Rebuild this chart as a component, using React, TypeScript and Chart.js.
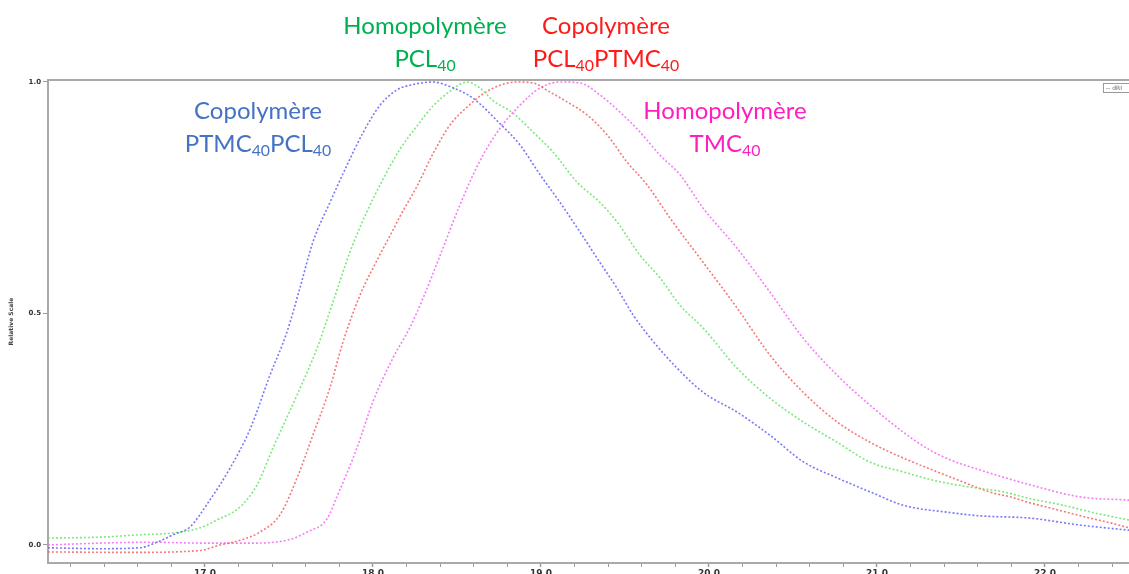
import React, { useEffect, useRef } from "react";
import { Chart, registerables } from "chart.js";

Chart.register(...registerables);

// Elution volume (x) and relative scale (y)
const blueX = [16.065, 16.375, 16.613, 16.714, 16.81, 16.911, 17.012, 17.149, 17.268, 17.387, 17.488, 17.565, 17.643, 17.744, 17.845, 17.94, 18.042, 18.143, 18.22, 18.357, 18.458, 18.595, 18.756, 18.875, 18.994, 19.113, 19.232, 19.351, 19.452, 19.548, 19.667, 19.81, 19.964, 20.167, 20.363, 20.56, 20.762, 20.958, 21.155, 21.435, 21.613, 21.911, 22.208, 22.5];
const blueY = [-0.006, -0.008, -0.006, 0.006, 0.022, 0.039, 0.088, 0.166, 0.25, 0.367, 0.46, 0.555, 0.655, 0.74, 0.82, 0.89, 0.95, 0.983, 0.993, 1.0, 0.99, 0.965, 0.91, 0.864, 0.8, 0.74, 0.676, 0.61, 0.555, 0.497, 0.44, 0.382, 0.33, 0.287, 0.237, 0.18, 0.145, 0.115, 0.086, 0.07, 0.063, 0.058, 0.043, 0.032];

const greenX = [16.065, 16.375, 16.613, 16.81, 16.97, 17.071, 17.208, 17.31, 17.405, 17.548, 17.667, 17.762, 17.863, 17.964, 18.06, 18.161, 18.262, 18.357, 18.458, 18.56, 18.637, 18.714, 18.833, 18.952, 19.071, 19.214, 19.351, 19.452, 19.589, 19.708, 19.827, 19.964, 20.167, 20.363, 20.56, 20.762, 20.958, 21.155, 21.357, 21.554, 21.75, 21.911, 22.107, 22.31, 22.5];
const greenY = [0.015, 0.017, 0.022, 0.026, 0.037, 0.054, 0.082, 0.13, 0.21, 0.324, 0.425, 0.525, 0.633, 0.72, 0.79, 0.855, 0.905, 0.948, 0.98, 1.0, 0.987, 0.96, 0.933, 0.892, 0.849, 0.784, 0.74, 0.698, 0.626, 0.577, 0.518, 0.469, 0.382, 0.317, 0.266, 0.222, 0.179, 0.158, 0.138, 0.125, 0.115, 0.1, 0.086, 0.068, 0.054];

const redX = [16.065, 16.554, 16.97, 17.089, 17.208, 17.327, 17.446, 17.548, 17.643, 17.744, 17.821, 17.923, 18.024, 18.119, 18.161, 18.262, 18.357, 18.458, 18.56, 18.655, 18.756, 18.857, 18.952, 19.054, 19.155, 19.274, 19.393, 19.512, 19.631, 19.768, 19.964, 20.167, 20.363, 20.56, 20.762, 20.958, 21.155, 21.435, 21.554, 21.673, 21.792, 21.911, 22.03, 22.149, 22.268, 22.387, 22.5];
const redY = [-0.015, -0.016, -0.012, 0.0, 0.01, 0.028, 0.065, 0.145, 0.238, 0.34, 0.438, 0.54, 0.615, 0.68, 0.71, 0.775, 0.845, 0.907, 0.946, 0.974, 0.993, 1.0, 0.998, 0.978, 0.957, 0.929, 0.886, 0.827, 0.778, 0.706, 0.611, 0.512, 0.41, 0.33, 0.266, 0.222, 0.188, 0.147, 0.13, 0.114, 0.104, 0.091, 0.08, 0.069, 0.058, 0.048, 0.037];

const magentaX = [16.065, 16.375, 16.673, 17.0, 17.268, 17.506, 17.607, 17.726, 17.786, 17.905, 18.0, 18.119, 18.22, 18.3, 18.399, 18.518, 18.637, 18.756, 18.875, 18.994, 19.113, 19.232, 19.351, 19.47, 19.589, 19.708, 19.827, 19.964, 20.167, 20.363, 20.56, 20.762, 20.958, 21.155, 21.315, 21.435, 21.613, 21.911, 22.208, 22.5];
const magentaY = [0.0, 0.004, 0.006, 0.004, 0.004, 0.012, 0.028, 0.056, 0.105, 0.21, 0.31, 0.404, 0.47, 0.535, 0.625, 0.735, 0.83, 0.9, 0.95, 0.987, 1.0, 0.998, 0.972, 0.935, 0.892, 0.842, 0.8, 0.728, 0.641, 0.546, 0.447, 0.367, 0.302, 0.244, 0.205, 0.184, 0.162, 0.13, 0.104, 0.097];

const xTickLabels = ["17.0", "18.0", "19.0", "20.0", "21.0", "22.0"];
const yTickLabels = ["0.0", "0.5", "1.0"];

const toPoints = (xs: number[], ys: number[]) => xs.map((x, i) => ({ x, y: ys[i] }));

const framePlugin = {
  id: "frame",
  afterDraw(chart: any) {
    const { ctx, chartArea } = chart;
    ctx.save();
    ctx.strokeStyle = "#a9a9a9";
    ctx.lineWidth = 2;
    ctx.beginPath();
    ctx.moveTo(chartArea.left, chartArea.top);
    ctx.lineTo(chartArea.right, chartArea.top);
    ctx.stroke();
    // small legend box at top right
    ctx.lineWidth = 1;
    ctx.strokeStyle = "#9a9a9a";
    ctx.fillStyle = "#fff";
    ctx.fillRect(1103.5, 83.5, 30, 9);
    ctx.strokeRect(1103.5, 83.5, 30, 9);
    ctx.fillStyle = "#666";
    ctx.font = "6px 'DejaVu Sans'";
    ctx.textBaseline = "middle";
    ctx.fillText("-- dRI", 1106, 88.5);
    ctx.restore();
  },
};

const Sub = ({ children }: { children: React.ReactNode }) => (
  <sub style={{ fontSize: "0.66em", verticalAlign: "-0.28em", lineHeight: 0 }}>{children}</sub>
);

const labelStyle = (cx: number, top: number, color: string): React.CSSProperties => ({
  position: "absolute",
  left: cx - 150,
  top,
  width: 300,
  textAlign: "center",
  color,
  fontFamily: "Lato, 'Open Sans', sans-serif",
  fontSize: 24,
  lineHeight: "33px",
  whiteSpace: "nowrap",
});

export default function App() {
  const ref = useRef<HTMLCanvasElement>(null);

  useEffect(() => {
    if (!ref.current) return;
    const mk = (label: string, xs: number[], ys: number[], color: string) => ({
      label,
      data: toPoints(xs, ys),
      borderColor: color,
      backgroundColor: color,
      borderWidth: 1.6,
      borderDash: [2, 2],
      pointRadius: 0,
      cubicInterpolationMode: "monotone" as const,
      fill: false,
    });
    const chart = new Chart(ref.current, {
      type: "line",
      data: {
        datasets: [
          mk("Copolymère PTMC40PCL40", blueX, blueY, "rgba(105,105,250,0.9)"),
          mk("Homopolymère PCL40", greenX, greenY, "rgba(110,230,110,0.9)"),
          mk("Copolymère PCL40PTMC40", redX, redY, "rgba(245,105,105,0.9)"),
          mk("Homopolymère TMC40", magentaX, magentaY, "rgba(245,110,245,0.9)"),
        ],
      },
      options: {
        animation: false,
        responsive: false,
        layout: { padding: { top: 80, left: 0, right: 0, bottom: 0 } },
        plugins: { legend: { display: false }, tooltip: { enabled: false } },
        scales: {
          x: {
            type: "linear",
            min: 16.0655,
            max: 22.5,
            afterFit: (s: any) => {
              s.height = 11;
            },
            ticks: {
              stepSize: 0.2,
              includeBounds: false,
              autoSkip: false,
              maxRotation: 0,
              padding: 1,
              color: "#333",
              font: { size: 9, family: "DejaVu Sans", weight: "bold" },
              callback: (v: any) => {
                const n = Number(v);
                if (Math.abs(n - Math.round(n)) < 1e-6) {
                  const s = n.toFixed(1);
                  return xTickLabels.includes(s) ? s : "";
                }
                return "";
              },
            },
            grid: {
              drawOnChartArea: false,
              drawTicks: true,
              tickLength: 4,
              color: "#9a9a9a",
              tickWidth: (c: any) =>
                c.tick && Math.abs(c.tick.value - Math.round(c.tick.value)) < 1e-6 ? 1.5 : 1,
            },
            border: { color: "#a9a9a9", width: 2 },
          },
          y: {
            type: "linear",
            min: -0.0389,
            max: 1.0043,
            afterFit: (s: any) => {
              s.width = 48;
            },
            title: {
              display: true,
              text: "Relative Scale",
              color: "#444",
              font: { size: 6, family: "DejaVu Sans", weight: "bold" },
              padding: { top: 8, bottom: 0 },
            },
            ticks: {
              stepSize: 0.5,
              includeBounds: false,
              padding: 2,
              color: "#333",
              font: { size: 7, family: "DejaVu Sans", weight: "bold" },
              callback: (v: any) => {
                const s = Number(v).toFixed(1);
                return yTickLabels.includes(s) ? s : "";
              },
            },
            grid: {
              drawOnChartArea: false,
              drawTicks: true,
              tickLength: 5,
              color: "#9a9a9a",
            },
            border: { color: "#a9a9a9", width: 2 },
          },
        },
      },
      plugins: [framePlugin],
    });
    return () => chart.destroy();
  }, []);

  return (
    <div style={{ position: "fixed", left: 0, top: 0, width: 1129, height: 574, background: "#fff", overflow: "hidden" }}>
      <canvas ref={ref} width={1129} height={574} style={{ width: 1129, height: 574, display: "block" }} />
      <div style={labelStyle(425, 8, "#00B050")}>
        Homopolymère
        <br />
        PCL<Sub>40</Sub>
      </div>
      <div style={labelStyle(606, 8, "#FF1A1A")}>
        Copolymère
        <br />
        PCL<Sub>40</Sub>PTMC<Sub>40</Sub>
      </div>
      <div style={labelStyle(258, 93, "#4472C4")}>
        Copolymère
        <br />
        PTMC<Sub>40</Sub>PCL<Sub>40</Sub>
      </div>
      <div style={labelStyle(725, 93, "#FF1FBF")}>
        Homopolymère
        <br />
        TMC<Sub>40</Sub>
      </div>
    </div>
  );
}
